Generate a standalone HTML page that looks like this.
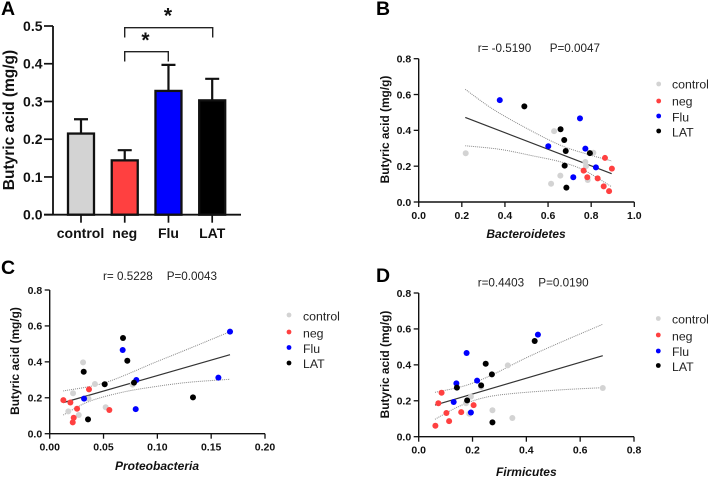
<!DOCTYPE html>
<html lang="en">
<head>
<meta charset="utf-8">
<title>Butyric acid correlations</title>
<style>
html,body{margin:0;padding:0;background:#fff;width:708px;height:477px;overflow:hidden}
svg{position:absolute;left:0;top:0;display:block;filter:blur(0.3px)}
text{font-family:"Liberation Sans",Arial,sans-serif;fill:#111}
.bold{font-weight:700}
.tick{font-weight:700;font-size:10.5px}
.tick-a{font-weight:700;font-size:14px}
.ylab{font-weight:700;font-size:11.9px}
.xlab{font-weight:700;font-style:italic;font-size:12px}
.ann{font-size:11.7px;fill:#222}
.leg{font-size:12.3px;fill:#222}
.letter{font-weight:700;font-size:19.5px;fill:#000}
</style>
</head>
<body>
<svg id="figure" width="708" height="477" viewBox="0 0 708 477" xmlns="http://www.w3.org/2000/svg">
  <g id="panel-a">
    <text class="letter" x="1" y="15">A</text>
    <text class="bold" font-size="15.5" transform="translate(14,120) rotate(-90)" text-anchor="middle">Butyric acid (mg/g)</text>
    <g id="marks-a"></g>
    <g>
      <path d="M124.7 61.5V51.7H168.3V61.5" fill="none" stroke="#222" stroke-width="1.4"/>
      <text class="bold" font-size="21" x="145.5" y="47" text-anchor="middle">*</text>
    </g>
    <g>
      <path d="M124.7 37.5V27.7H212.7V37.5" fill="none" stroke="#222" stroke-width="1.4"/>
      <text class="bold" font-size="21" x="168" y="22.5" text-anchor="middle">*</text>
    </g>
  </g>

  <g id="panel-b">
    <text class="letter" x="376" y="15">B</text>
    <text class="ann" x="477.7" y="52">r= -0.5190</text>
    <text class="ann" x="549.7" y="52">P=0.0047</text>
    <text class="ylab" transform="translate(389,129.5) rotate(-90)" text-anchor="middle">Butyric acid (mg/g)</text>
    <text class="xlab" x="526" y="238" text-anchor="middle">Bacteroidetes</text>
    <g id="marks-b"></g>
    <g>
      <circle cx="658.7" cy="84" r="2.4" fill="#d3d3d3"/><text class="leg" x="672" y="88.5">control</text>
      <circle cx="658.7" cy="101" r="2.4" fill="#ff4040"/><text class="leg" x="672" y="105.5">neg</text>
      <circle cx="658.7" cy="116" r="2.4" fill="#0000ff"/><text class="leg" x="672" y="121.5">Flu</text>
      <circle cx="658.7" cy="131" r="2.4" fill="#000"/><text class="leg" x="672" y="136.5">LAT</text>
    </g>
  </g>

  <g id="panel-c">
    <text class="letter" x="1" y="274">C</text>
    <text class="ann" x="103" y="280">r= 0.5228</text>
    <text class="ann" x="166.7" y="280">P=0.0043</text>
    <text class="ylab" transform="translate(19,361) rotate(-90)" text-anchor="middle">Butyric acid (mg/g)</text>
    <text class="xlab" x="157" y="470" text-anchor="middle">Proteobacteria</text>
    <g id="marks-c"></g>
    <g>
      <circle cx="289" cy="315" r="2.4" fill="#d3d3d3"/><text class="leg" x="303" y="320.5">control</text>
      <circle cx="289" cy="332" r="2.4" fill="#ff4040"/><text class="leg" x="303" y="337.5">neg</text>
      <circle cx="289" cy="347.5" r="2.4" fill="#0000ff"/><text class="leg" x="303" y="353">Flu</text>
      <circle cx="289" cy="363" r="2.4" fill="#000"/><text class="leg" x="303" y="368">LAT</text>
    </g>
  </g>

  <g id="panel-d">
    <text class="letter" x="376" y="282">D</text>
    <text class="ann" x="477.7" y="286.5">r=0.4403</text>
    <text class="ann" x="538.3" y="286.5">P=0.0190</text>
    <text class="ylab" transform="translate(389,364.5) rotate(-90)" text-anchor="middle">Butyric acid (mg/g)</text>
    <text class="xlab" x="526.3" y="476" text-anchor="middle">Firmicutes</text>
    <g id="marks-d"></g>
    <g>
      <circle cx="658.3" cy="318.5" r="2.4" fill="#d3d3d3"/><text class="leg" x="672" y="323.5">control</text>
      <circle cx="658.3" cy="335" r="2.4" fill="#ff4040"/><text class="leg" x="672" y="340.5">neg</text>
      <circle cx="658.3" cy="351" r="2.4" fill="#0000ff"/><text class="leg" x="672" y="356">Flu</text>
      <circle cx="658.3" cy="365.5" r="2.4" fill="#000"/><text class="leg" x="672" y="371">LAT</text>
    </g>
  </g>
</svg>

<script>
/* ---------- Panel A data ---------- */
const barCategories = ['control', 'neg', 'Flu', 'LAT'];
const barMeans = [0.215, 0.144, 0.328, 0.303];
const barErrors = [0.038, 0.027, 0.069, 0.057];
const barTicks = ['0.0', '0.1', '0.2', '0.3', '0.4', '0.5'];

/* ---------- Panel B data ---------- */
const bTicksX = ['0.0', '0.2', '0.4', '0.6', '0.8', '1.0'];
const bTicksY = ['0.0', '0.2', '0.4', '0.6', '0.8'];
const bControlX = [0.218, 0.628, 0.810, 0.773, 0.776, 0.657, 0.614, 0.784];
const bControlY = [0.272, 0.396, 0.275, 0.223, 0.200, 0.147, 0.102, 0.123];
const bNegX = [0.864, 0.896, 0.765, 0.782, 0.830, 0.858, 0.883];
const bNegY = [0.246, 0.186, 0.175, 0.138, 0.132, 0.087, 0.061];
const bFluX = [0.376, 0.748, 0.601, 0.773, 0.822, 0.717];
const bFluY = [0.569, 0.467, 0.311, 0.298, 0.193, 0.138];
const bLatX = [0.490, 0.658, 0.675, 0.682, 0.794, 0.677, 0.685];
const bLatY = [0.534, 0.406, 0.346, 0.285, 0.273, 0.203, 0.080];
const bFitX = [0.216, 0.895];
const bFitY = [0.472, 0.158];
const bUpperX = [0.216, 0.346, 0.501, 0.655, 0.779, 0.895];
const bUpperY = [0.629, 0.517, 0.411, 0.318, 0.268, 0.229];
const bLowerX = [0.216, 0.377, 0.532, 0.655, 0.764, 0.895];
const bLowerY = [0.314, 0.294, 0.257, 0.225, 0.179, 0.085];

/* ---------- Panel C data ---------- */
const cTicksX = ['0.00', '0.05', '0.10', '0.15', '0.20'];
const cTicksY = ['0.0', '0.2', '0.4', '0.6', '0.8'];
const cControlX = [0.0310, 0.0420, 0.0217, 0.0360, 0.0770, 0.0520, 0.0173, 0.0270];
const cControlY = [0.397, 0.277, 0.225, 0.195, 0.273, 0.147, 0.124, 0.104];
const cNegX = [0.0365, 0.0127, 0.0192, 0.0254, 0.0554, 0.0223, 0.0214];
const cNegY = [0.247, 0.187, 0.174, 0.139, 0.132, 0.089, 0.063];
const cFluX = [0.1675, 0.0678, 0.1567, 0.0805, 0.0319, 0.0799];
const cFluY = [0.568, 0.466, 0.312, 0.299, 0.195, 0.137];
const cLatX = [0.0681, 0.0721, 0.0316, 0.0511, 0.0783, 0.1331, 0.0356];
const cLatY = [0.533, 0.406, 0.345, 0.275, 0.284, 0.202, 0.080];
const cFitX = [0.0126, 0.1675];
const cFitY = [0.173, 0.440];
const cUpperX = [0.0126, 0.0514, 0.0978, 0.1288, 0.1675];
const cUpperY = [0.238, 0.284, 0.397, 0.472, 0.568];
const cLowerX = [0.0126, 0.0359, 0.0669, 0.0978, 0.1288, 0.1675];
const cLowerY = [0.104, 0.178, 0.230, 0.262, 0.286, 0.303];

/* ---------- Panel D data ---------- */
const dTicksX = ['0.0', '0.2', '0.4', '0.6', '0.8'];
const dTicksY = ['0.0', '0.2', '0.4', '0.6', '0.8'];
const dControlX = [0.331, 0.684, 0.194, 0.176, 0.274, 0.188, 0.348, 0.232];
const dControlY = [0.397, 0.271, 0.223, 0.186, 0.147, 0.128, 0.104, 0.277];
const dNegX = [0.085, 0.073, 0.204, 0.103, 0.158, 0.113, 0.062];
const dNegY = [0.245, 0.186, 0.176, 0.132, 0.137, 0.087, 0.061];
const dFluX = [0.443, 0.178, 0.217, 0.140, 0.130, 0.194];
const dFluY = [0.568, 0.466, 0.312, 0.297, 0.193, 0.135];
const dLatX = [0.431, 0.249, 0.272, 0.232, 0.142, 0.180, 0.274];
const dLatY = [0.533, 0.406, 0.347, 0.286, 0.273, 0.202, 0.080];
const dFitX = [0.0606, 0.684];
const dFitY = [0.176, 0.451];
const dUpperX = [0.0606, 0.172, 0.271, 0.395, 0.519, 0.684];
const dUpperY = [0.247, 0.284, 0.343, 0.436, 0.520, 0.626];
const dLowerX = [0.0606, 0.147, 0.234, 0.333, 0.519, 0.684];
const dLowerY = [0.097, 0.167, 0.214, 0.238, 0.260, 0.273];

const NS = 'http://www.w3.org/2000/svg';
const groupColors = ['#d3d3d3', '#ff4040', '#0000ff', '#000000'];
const groupNames = ['control', 'neg', 'flu', 'lat'];

function make(parent, tag, attrs, label) {
  const el = document.createElementNS(NS, tag);
  for (const k in attrs) el.setAttribute(k, attrs[k]);
  if (label !== undefined) el.textContent = label;
  parent.appendChild(el);
  return el;
}

function linear(d0, d1, r0, r1) {
  return function (v) { return r0 + (v - d0) / (d1 - d0) * (r1 - r0); };
}

/* ---------- Panel A ---------- */
function drawBars() {
  const host = document.getElementById('marks-a');
  const y = linear(0, 0.5, 214.7, 26);
  const x = linear(0, 3, 81, 212.2);
  barCategories.forEach(function (name, i) {
    const cx = x(i);
    const top = y(barMeans[i]);
    const hi = y(barMeans[i] + barErrors[i]);
    const err = make(host, 'path', {
      d: 'M' + cx + ' ' + top + 'V' + hi + 'M' + (cx - 7) + ' ' + hi + 'H' + (cx + 7),
      fill: 'none', stroke: '#111', 'stroke-width': 2.2
    });
    
    
    const bar = make(host, 'rect', {
      x: cx - 13, y: top, width: 26, height: y(0) - top,
      fill: groupColors[i], stroke: '#111', 'stroke-width': 2.3
    });
    
    
    const tick = make(host, 'line', { x1: cx, x2: cx, y1: y(0), y2: y(0) + 8, stroke: '#111', 'stroke-width': 1.7 });
    
    
    const lab = make(host, 'text', { x: i === 0 ? cx - 0.5 : cx, y: 238, 'text-anchor': 'middle', class: 'tick-a' }, name);
    
    
  });
  const axes = make(host, 'path', {
    d: 'M53 26V214.7M44 214.7H241', fill: 'none', stroke: '#111', 'stroke-width': 1.8
  });
  
  
  barTicks.forEach(function (t) {
    const ty = y(parseFloat(t));
    const tick = make(host, 'line', { x1: 44, x2: 53, y1: ty, y2: ty, stroke: '#111', 'stroke-width': 1.7 });
    
    
    const lab = make(host, 'text', { x: 42.5, y: ty + 5, 'text-anchor': 'end', class: 'tick-a' }, t);
    
    
  });
}

/* ---------- Scatter panels ---------- */
function smoothPath(xs, ys, x, y) {
  const p = xs.map(function (v, i) { return [x(v), y(ys[i])]; });
  let d = 'M' + p[0][0] + ' ' + p[0][1];
  for (let i = 0; i < p.length - 1; i++) {
    const a = p[Math.max(i - 1, 0)], b = p[i], c = p[i + 1], e = p[Math.min(i + 2, p.length - 1)];
    d += 'C' + (b[0] + (c[0] - a[0]) / 6) + ' ' + (b[1] + (c[1] - a[1]) / 6) + ' ' +
         (c[0] - (e[0] - b[0]) / 6) + ' ' + (c[1] - (e[1] - b[1]) / 6) + ' ' + c[0] + ' ' + c[1];
  }
  return d;
}

function drawScatter(o) {
  const host = document.getElementById(o.host);
  const x = linear(o.xMin, o.xMax, o.left, o.right);
  const y = linear(0, 0.8, o.bottom, o.top);

  [[o.upperX, o.upperY, 'upper'], [o.lowerX, o.lowerY, 'lower']].forEach(function (b) {
    const band = make(host, 'path', {
      d: smoothPath(b[0], b[1], x, y), fill: 'none', stroke: '#888', 'stroke-width': 1, 'stroke-dasharray': '1 1'
    });
    
    
  });
  const fit = make(host, 'line', {
    x1: x(o.fitX[0]), y1: y(o.fitY[0]), x2: x(o.fitX[1]), y2: y(o.fitY[1]), stroke: '#333', 'stroke-width': 1.2
  });
  
  

  o.series.forEach(function (s, g) {
    s[0].forEach(function (v, i) {
      const dot = make(host, 'circle', { cx: x(v), cy: y(s[1][i]), r: 3, fill: groupColors[g] });
      
      
    });
  });

  const axes = make(host, 'path', {
    d: 'M' + o.left + ' ' + o.top + 'V' + o.bottom + 'H' + o.right, fill: 'none', stroke: '#111', 'stroke-width': 1.4
  });
  
  

  o.ticksX.forEach(function (t) {
    const tx = x(parseFloat(t));
    const tick = make(host, 'line', { x1: tx, x2: tx, y1: o.bottom, y2: o.bottom + 5, stroke: '#111', 'stroke-width': 1.3 });
    
    
    const lab = make(host, 'text', { x: tx, y: o.bottom + 17, 'text-anchor': 'middle', class: 'tick' }, t);
    
    
  });
  o.ticksY.forEach(function (t) {
    const ty = y(parseFloat(t));
    const tick = make(host, 'line', { x1: o.left - 5, x2: o.left, y1: ty, y2: ty, stroke: '#111', 'stroke-width': 1.3 });
    
    
    const lab = make(host, 'text', { x: o.left - 7.5, y: ty + 3.8, 'text-anchor': 'end', class: 'tick' }, t);
    
    
  });
}

drawBars();

drawScatter({
  host: 'marks-b', xMin: 0, xMax: 1, left: 418.7, right: 634.3, top: 58.7, bottom: 202,
  ticksX: bTicksX, ticksY: bTicksY,
  series: [[bControlX, bControlY], [bNegX, bNegY], [bFluX, bFluY], [bLatX, bLatY]],
  fitX: bFitX, fitY: bFitY, upperX: bUpperX, upperY: bUpperY, lowerX: bLowerX, lowerY: bLowerY
});

drawScatter({
  host: 'marks-c', xMin: 0, xMax: 0.2, left: 49.7, right: 265, top: 290, bottom: 433.7,
  ticksX: cTicksX, ticksY: cTicksY,
  series: [[cControlX, cControlY], [cNegX, cNegY], [cFluX, cFluY], [cLatX, cLatY]],
  fitX: cFitX, fitY: cFitY, upperX: cUpperX, upperY: cUpperY, lowerX: cLowerX, lowerY: cLowerY
});

drawScatter({
  host: 'marks-d', xMin: 0, xMax: 0.8, left: 418.7, right: 634, top: 293, bottom: 436.7,
  ticksX: dTicksX, ticksY: dTicksY,
  series: [[dControlX, dControlY], [dNegX, dNegY], [dFluX, dFluY], [dLatX, dLatY]],
  fitX: dFitX, fitY: dFitY, upperX: dUpperX, upperY: dUpperY, lowerX: dLowerX, lowerY: dLowerY
});
</script>
</body>
</html>
